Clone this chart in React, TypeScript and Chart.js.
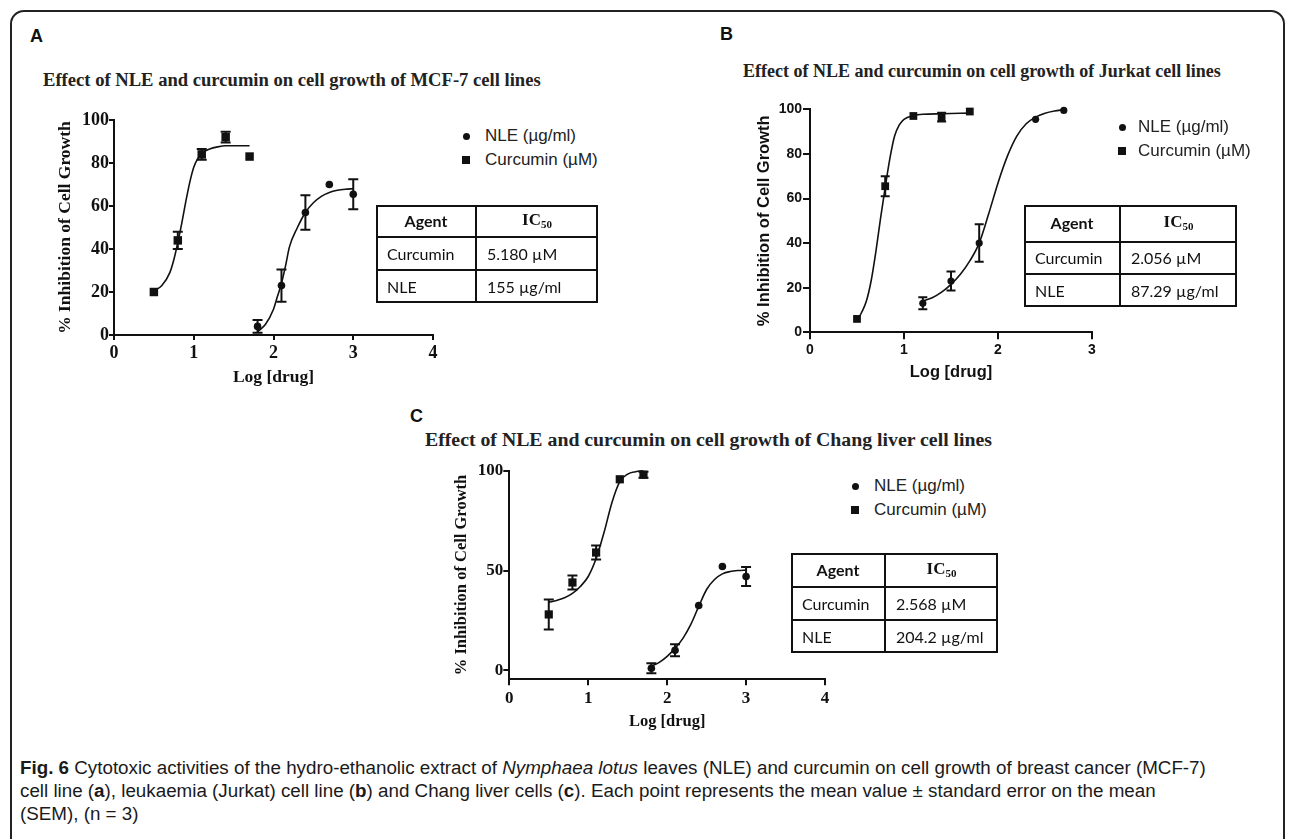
import React, { useEffect, useRef } from "react";
import { Chart, registerables } from "chart.js";
Chart.register(...registerables);

// ---------- Panel A: MCF-7 ----------
const mcfXTicks = [0, 1, 2, 3, 4];
const mcfYTicks = [0, 20, 40, 60, 80, 100];
const mcfCurcX = [0.5, 0.8, 1.1, 1.4, 1.7];
const mcfCurcY = [20, 44, 84, 92, 83];
const mcfCurcErr = [0, 4, 2.5, 2.5, 0];
const mcfNleX = [1.8, 2.1, 2.4, 2.7, 3.0];
const mcfNleY = [4, 23, 57, 70, 65.5];
const mcfNleErr = [3, 7.5, 8, 0, 7];
const mcfCurcFitX = [0.5, 0.6, 0.7, 0.75, 0.8, 0.85, 0.9, 0.95, 1.0, 1.05, 1.1, 1.2, 1.3, 1.4, 1.55, 1.7];
const mcfCurcFitY = [20.5, 23, 29, 35, 43, 52, 62, 71, 78, 82, 84.5, 86.5, 87.5, 88, 88, 88];
const mcfNleFitX = [1.8, 1.9, 2.0, 2.05, 2.1, 2.15, 2.2, 2.3, 2.4, 2.5, 2.6, 2.7, 2.8, 2.9, 3.0];
const mcfNleFitY = [1.5, 5, 12, 18, 24, 32, 41, 50, 57, 61.5, 64.5, 66.3, 67.3, 67.8, 68];

// ---------- Panel B: Jurkat ----------
const jurXTicks = [0, 1, 2, 3];
const jurYTicks = [0, 20, 40, 60, 80, 100];
const jurCurcX = [0.5, 0.8, 1.1, 1.4, 1.7];
const jurCurcY = [6, 65.5, 97, 96.5, 99];
const jurCurcErr = [0, 4.5, 0, 2, 0];
const jurNleX = [1.2, 1.5, 1.8, 2.4, 2.7];
const jurNleY = [13, 23, 40, 95.5, 99.5];
const jurNleErr = [2.7, 4.3, 8.4, 0, 0];
const jurCurcFitX = [0.5, 0.55, 0.6, 0.65, 0.7, 0.75, 0.8, 0.85, 0.9, 0.95, 1.0, 1.1, 1.2, 1.4, 1.7];
const jurCurcFitY = [5, 9, 14, 23, 36, 51, 65, 78, 88, 93, 95.5, 97.2, 97.8, 98, 98.3];
const jurNleFitX = [1.2, 1.3, 1.4, 1.5, 1.6, 1.7, 1.8, 1.9, 2.0, 2.1, 2.2, 2.3, 2.4, 2.5, 2.6, 2.7];
const jurNleFitY = [14, 15.5, 18, 21.5, 26, 32, 40, 53, 67, 79, 88, 93.5, 96.5, 98.2, 99.2, 99.8];

// ---------- Panel C: Chang liver ----------
const chXTicks = [0, 1, 2, 3, 4];
const chYTicks = [0, 50, 100];
const chCurcX = [0.5, 0.8, 1.1, 1.4, 1.7];
const chCurcY = [28, 44, 59, 95.7, 98];
const chCurcErr = [7.5, 3.5, 3.5, 0, 1.5];
const chNleX = [1.8, 2.1, 2.4, 2.7, 3.0];
const chNleY = [1, 10, 32.5, 52, 47];
const chNleErr = [2.5, 3, 0, 0, 4.75];
const chCurcFitX = [0.5, 0.6, 0.7, 0.8, 0.9, 1.0, 1.1, 1.2, 1.3, 1.4, 1.5, 1.6, 1.7];
const chCurcFitY = [34, 35, 36.3, 38.5, 42, 47, 56, 69, 84, 94.5, 98.3, 99.5, 100];
const chNleFitX = [1.8, 1.9, 2.0, 2.1, 2.2, 2.3, 2.4, 2.5, 2.6, 2.7, 2.8, 2.9, 3.0];
const chNleFitY = [2, 4, 7, 11, 16, 23, 32, 40.5, 45.5, 48.3, 49.5, 50, 50.2];

const INK = "#111";
const pts = (xs: number[], ys: number[]) => xs.map((x, i) => ({ x, y: ys[i] }));

const errorBarPlugin = {
  id: "errbars",
  afterDatasetsDraw(chart: any) {
    const ctx = chart.ctx;
    const xs = chart.scales.x;
    const ys = chart.scales.y;
    chart.data.datasets.forEach((ds: any) => {
      if (!ds.errors) return;
      ctx.save();
      ctx.strokeStyle = INK;
      ctx.lineWidth = 2;
      const cap = ds.capHalf || 5;
      ds.data.forEach((p: any, i: number) => {
        const e = ds.errors[i];
        if (!e) return;
        const px = xs.getPixelForValue(p.x);
        const y1 = ys.getPixelForValue(p.y - e);
        const y2 = ys.getPixelForValue(p.y + e);
        ctx.beginPath();
        ctx.moveTo(px, y1);
        ctx.lineTo(px, y2);
        ctx.moveTo(px - cap, y1);
        ctx.lineTo(px + cap, y1);
        ctx.moveTo(px - cap, y2);
        ctx.lineTo(px + cap, y2);
        ctx.stroke();
      });
      ctx.restore();
    });
  },
};

type PanelCfg = {
  left: number; top: number; width: number; height: number;
  yW: number; xH: number; padTop: number; padRight: number;
  xMin: number; xMax: number; yMin: number; yMax: number;
  xTicks: number[]; yTicks: number[];
  curcX: number[]; curcY: number[]; curcErr: number[];
  nleX: number[]; nleY: number[]; nleErr: number[];
  curcFitX: number[]; curcFitY: number[]; nleFitX: number[]; nleFitY: number[];
  family: string; tickSize: number; titleSize: number;
  yTitlePad: number; xTitlePad: number; tickLen: number; yTickPad: number; xTickPad: number;
  cap: number; sqR: number; cirR: number;
};

function Panel({ cfg }: { cfg: PanelCfg }) {
  const ref = useRef<HTMLCanvasElement | null>(null);
  useEffect(() => {
    if (!ref.current) return;
    const tickFont = { family: cfg.family, weight: "bold" as const, size: cfg.tickSize };
    const titleFont = { family: cfg.family, weight: "bold" as const, size: cfg.titleSize };
    const gridCfg = { display: true, drawOnChartArea: false, drawTicks: true, tickLength: cfg.tickLen, color: INK, lineWidth: 2 };
    const chart = new Chart(ref.current, {
      type: "scatter",
      data: {
        datasets: [
          { data: pts(cfg.curcFitX, cfg.curcFitY), showLine: true, pointRadius: 0, borderColor: INK, borderWidth: 1.6, cubicInterpolationMode: "monotone", clip: false } as any,
          { data: pts(cfg.nleFitX, cfg.nleFitY), showLine: true, pointRadius: 0, borderColor: INK, borderWidth: 1.6, cubicInterpolationMode: "monotone", clip: false } as any,
          { data: pts(cfg.curcX, cfg.curcY), errors: cfg.curcErr, capHalf: cfg.cap, pointStyle: "rect", pointRadius: cfg.sqR, backgroundColor: INK, borderColor: INK, borderWidth: 0, clip: false } as any,
          { data: pts(cfg.nleX, cfg.nleY), errors: cfg.nleErr, capHalf: cfg.cap, pointStyle: "circle", pointRadius: cfg.cirR, backgroundColor: INK, borderColor: INK, borderWidth: 0, clip: false } as any,
        ],
      },
      options: {
        animation: false,
        responsive: false,
        devicePixelRatio: 1,
        layout: { padding: { left: 0, top: cfg.padTop, right: cfg.padRight, bottom: 0 } },
        plugins: { legend: { display: false }, tooltip: { enabled: false } },
        scales: {
          x: {
            type: "linear", min: cfg.xMin, max: cfg.xMax,
            afterBuildTicks: (s: any) => { s.ticks = cfg.xTicks.map((v) => ({ value: v })); },
            afterFit: (s: any) => { s.height = cfg.xH; },
            grid: gridCfg,
            border: { display: true, color: INK, width: 2 },
            ticks: { color: INK, font: tickFont, padding: cfg.xTickPad, maxRotation: 0, autoSkip: false },
            title: { display: true, text: "Log [drug]", color: INK, font: titleFont, padding: { top: 0, bottom: cfg.xTitlePad } },
          },
          y: {
            type: "linear", min: cfg.yMin, max: cfg.yMax,
            afterBuildTicks: (s: any) => { s.ticks = cfg.yTicks.map((v) => ({ value: v })); },
            afterFit: (s: any) => { s.width = cfg.yW; },
            grid: gridCfg,
            border: { display: true, color: INK, width: 2 },
            ticks: { color: INK, font: tickFont, padding: cfg.yTickPad, autoSkip: false },
            title: { display: true, text: "% Inhibition of Cell Growth", color: INK, font: titleFont, padding: { top: cfg.yTitlePad, bottom: 0 } },
          },
        },
      },
      plugins: [errorBarPlugin],
    });
    return () => chart.destroy();
  }, []);
  return (
    <canvas ref={ref} width={cfg.width} height={cfg.height}
      style={{ position: "absolute", left: cfg.left, top: cfg.top, width: cfg.width, height: cfg.height }} />
  );
}

const serif = "'Liberation Serif', 'Times New Roman', serif";
const sans = "'Liberation Sans', Arial, sans-serif";
const calib = "Lato, 'Open Sans', sans-serif";

function Txt(props: { x: number; cy: number; size: number; family: string; weight?: any; color?: string; children: any; style?: any }) {
  const lh = props.size * 1.2;
  return (
    <div style={{ position: "absolute", left: props.x, top: props.cy - lh / 2, lineHeight: lh + "px", fontSize: props.size,
      fontFamily: props.family, fontWeight: props.weight || "normal", color: props.color || "#1a1a1a", whiteSpace: "nowrap", ...props.style }}>
      {props.children}
    </div>
  );
}

function Legend({ x, y1, y2, tx }: { x: number; y1: number; y2: number; tx: number }) {
  return (
    <>
      <div style={{ position: "absolute", left: x - 3.5, top: y1 - 3.5, width: 7, height: 7, borderRadius: "50%", background: INK }} />
      <div style={{ position: "absolute", left: x - 4, top: y2 - 4, width: 8, height: 8, background: INK }} />
      <Txt x={tx} cy={y1} size={17} family={sans} color="#222">NLE (µg/ml)</Txt>
      <Txt x={tx} cy={y2} size={17} family={sans} color="#222">Curcumin (µM)</Txt>
    </>
  );
}

function IcTable({ l, r, c, rows, curc, nle }: { l: number; r: number; c: number; rows: number[]; curc: string; nle: string }) {
  const line = (style: any) => <div style={{ position: "absolute", background: INK, ...style }} />;
  const mid = (a: number, b: number) => (a + b) / 2;
  return (
    <>
      <div style={{ position: "absolute", left: l, top: rows[0], width: r - l, height: rows[3] - rows[0], border: `2px solid ${INK}`, boxSizing: "border-box" }} />
      {line({ left: c - 1, top: rows[0], width: 2, height: rows[3] - rows[0] })}
      {line({ left: l, top: rows[1] - 1, width: r - l, height: 2 })}
      {line({ left: l, top: rows[2] - 1, width: r - l, height: 2 })}
      <div style={{ position: "absolute", left: l, width: c - l, top: mid(rows[0], rows[1]) - 10, lineHeight: "20px", textAlign: "center",
        fontFamily: calib, fontWeight: "bold", fontSize: 16, color: INK }}>Agent</div>
      <div style={{ position: "absolute", left: c, width: r - c, top: mid(rows[0], rows[1]) - 11, lineHeight: "20px", textAlign: "center",
        fontFamily: serif, fontWeight: "bold", fontSize: 17, color: INK }}>IC<sub style={{ fontSize: 11, verticalAlign: "-3px" }}>50</sub></div>
      <Txt x={l + 11} cy={mid(rows[1], rows[2])} size={16} family={calib} color={INK}>Curcumin</Txt>
      <Txt x={c + 11} cy={mid(rows[1], rows[2])} size={16} family={calib} color={INK}>{curc}</Txt>
      <Txt x={l + 11} cy={mid(rows[2], rows[3])} size={16} family={calib} color={INK}>NLE</Txt>
      <Txt x={c + 11} cy={mid(rows[2], rows[3])} size={16} family={calib} color={INK}>{nle}</Txt>
    </>
  );
}

const cfgA: PanelCfg = {
  left: 0, top: 90, width: 450, height: 300, yW: 114, xH: 55, padTop: 30, padRight: 17,
  xMin: 0, xMax: 4, yMin: 0, yMax: 100, xTicks: mcfXTicks, yTicks: mcfYTicks,
  curcX: mcfCurcX, curcY: mcfCurcY, curcErr: mcfCurcErr, nleX: mcfNleX, nleY: mcfNleY, nleErr: mcfNleErr,
  curcFitX: mcfCurcFitX, curcFitY: mcfCurcFitY, nleFitX: mcfNleFitX, nleFitY: mcfNleFitY,
  family: serif, tickSize: 18, titleSize: 17.5, yTitlePad: 54.5, xTitlePad: 2.5, tickLen: 5, yTickPad: 0, xTickPad: 3,
  cap: 5, sqR: 6, cirR: 3.8,
};
const cfgB: PanelCfg = {
  left: 700, top: 80, width: 420, height: 320, yW: 110, xH: 67.7, padTop: 29.3, padRight: 28,
  xMin: 0, xMax: 3, yMin: 0, yMax: 100, xTicks: jurXTicks, yTicks: jurYTicks,
  curcX: jurCurcX, curcY: jurCurcY, curcErr: jurCurcErr, nleX: jurNleX, nleY: jurNleY, nleErr: jurNleErr,
  curcFitX: jurCurcFitX, curcFitY: jurCurcFitY, nleFitX: jurNleFitX, nleFitY: jurNleFitY,
  family: sans, tickSize: 14, titleSize: 16.5, yTitlePad: 55, xTitlePad: 18, tickLen: 7, yTickPad: 1, xTickPad: 2,
  cap: 4.5, sqR: 5.5, cirR: 3.6,
};
const cfgC: PanelCfg = {
  left: 400, top: 440, width: 450, height: 300, yW: 109.3, xH: 60.7, padTop: 30.7, padRight: 25,
  xMin: 0, xMax: 4, yMin: -4.5, yMax: 100, xTicks: chXTicks, yTicks: chYTicks,
  curcX: chCurcX, curcY: chCurcY, curcErr: chCurcErr, nleX: chNleX, nleY: chNleY, nleErr: chNleErr,
  curcFitX: chCurcFitX, curcFitY: chCurcFitY, nleFitX: chNleFitX, nleFitY: chNleFitY,
  family: serif, tickSize: 17, titleSize: 16.5, yTitlePad: 51.8, xTitlePad: 8, tickLen: 6, yTickPad: 0, xTickPad: 3,
  cap: 5, sqR: 5.8, cirR: 3.8,
};

export default function App() {
  const capStyle = { fontFamily: sans, fontSize: 18.8, color: "#1a1a1a" };
  return (
    <div style={{ position: "fixed", left: 0, top: 0, width: 1292, height: 839, overflow: "hidden", background: "#fff" }}>
      <div style={{ position: "absolute", left: 10, top: 10, width: 1275, height: 900, border: "2px solid #222",
        borderRadius: 14, boxSizing: "border-box" }} />

      <Txt x={30} cy={37} size={18} family={sans} weight="bold" color="#111">A</Txt>
      <Txt x={720} cy={35} size={18} family={sans} weight="bold" color="#111">B</Txt>
      <Txt x={410} cy={417} size={18} family={sans} weight="bold" color="#111">C</Txt>

      <Txt x={43} cy={80} size={18.6} family={serif} weight="bold" color="#222">Effect of NLE and curcumin on cell growth of MCF-7 cell lines</Txt>
      <Txt x={743} cy={72} size={18} family={serif} weight="bold" color="#222">Effect of NLE and curcumin on cell growth of Jurkat cell lines</Txt>
      <Txt x={425} cy={440} size={19.8} family={serif} weight="bold" color="#222">Effect of NLE and curcumin on cell growth of Chang liver cell lines</Txt>

      <Panel cfg={cfgA} />
      <Panel cfg={cfgB} />
      <Panel cfg={cfgC} />

      <Legend x={466} y1={136} y2={160} tx={485} />
      <Legend x={1122} y1={127} y2={151} tx={1138} />
      <Legend x={855} y1={486} y2={510} tx={874} />

      <IcTable l={376} r={598} c={476} rows={[205, 236.7, 270, 303]} curc="5.180 µM" nle="155 µg/ml" />
      <IcTable l={1024} r={1237} c={1120} rows={[205, 241.7, 274, 306.7]} curc="2.056 µM" nle="87.29 µg/ml" />
      <IcTable l={791} r={998} c={885} rows={[553.3, 586.7, 620, 653]} curc="2.568 µM" nle="204.2 µg/ml" />

      <Txt x={20} cy={768} size={18.8} family={sans} style={capStyle}>
        <b>Fig. 6</b> Cytotoxic activities of the hydro-ethanolic extract of <i>Nymphaea lotus</i> leaves (NLE) and curcumin on cell growth of breast cancer (MCF-7)
      </Txt>
      <Txt x={20} cy={791} size={18.8} family={sans} style={capStyle}>
        cell line (<b>a</b>), leukaemia (Jurkat) cell line (<b>b</b>) and Chang liver cells (<b>c</b>). Each point represents the mean value ± standard error on the mean
      </Txt>
      <Txt x={20} cy={814} size={18.8} family={sans} style={capStyle}>
        (SEM), (n = 3)
      </Txt>
    </div>
  );
}
